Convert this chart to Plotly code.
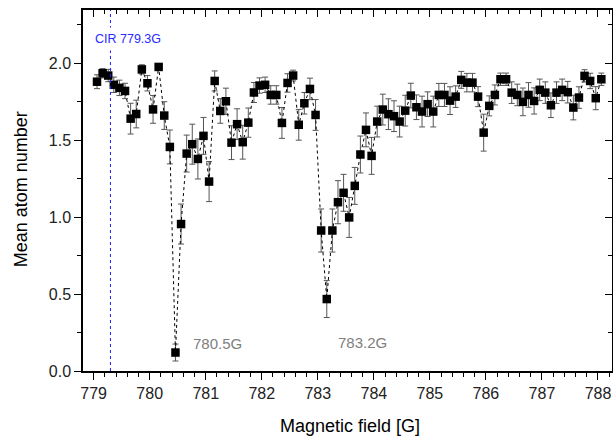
import plotly.graph_objects as go

field = [779.06, 779.16, 779.26, 779.36, 779.46, 779.56, 779.66, 779.76, 779.86, 779.96,
         780.06, 780.16, 780.26, 780.36, 780.46, 780.56, 780.66, 780.76, 780.86, 780.96,
         781.06, 781.16, 781.26, 781.36, 781.46, 781.56, 781.66, 781.76, 781.86, 781.96,
         782.06, 782.16, 782.26, 782.36, 782.46, 782.56, 782.66, 782.76, 782.86, 782.96,
         783.06, 783.16, 783.26, 783.36, 783.46, 783.56, 783.66, 783.76, 783.86, 783.96,
         784.06, 784.16, 784.26, 784.36, 784.46, 784.56, 784.66, 784.76, 784.86, 784.96,
         785.06, 785.16, 785.26, 785.36, 785.46, 785.56, 785.66, 785.76, 785.86, 785.96,
         786.06, 786.16, 786.26, 786.36, 786.46, 786.56, 786.66, 786.76, 786.86, 786.96,
         787.06, 787.16, 787.26, 787.36, 787.46, 787.56, 787.66, 787.76, 787.86, 787.96,
         788.06]

atoms = [1.88, 1.935, 1.92, 1.86, 1.84, 1.82, 1.64, 1.67, 1.96, 1.87,
         1.70, 1.976, 1.66, 1.456, 0.12, 0.955, 1.413, 1.474, 1.378, 1.528,
         1.231, 1.885, 1.69, 1.753, 1.484, 1.604, 1.487, 1.614, 1.81, 1.855,
         1.86, 1.794, 1.794, 1.612, 1.872, 1.92, 1.60, 1.74, 1.833, 1.664,
         0.913, 0.4675, 0.913, 1.097, 1.158, 0.998, 1.203, 1.407, 1.567, 1.398,
         1.621, 1.699, 1.669, 1.656, 1.621, 1.692, 1.79, 1.714, 1.686, 1.734,
         1.686, 1.794, 1.794, 1.757, 1.783, 1.892, 1.874, 1.874, 1.783, 1.549,
         1.723, 1.794, 1.896, 1.896, 1.809, 1.794, 1.749, 1.794, 1.755, 1.827,
         1.809, 1.727, 1.809, 1.827, 1.812, 1.712, 1.777, 1.918, 1.885, 1.773,
         1.896]

errors = [0.045, 0.03, 0.04, 0.05, 0.05, 0.05, 0.10, 0.09, 0.03, 0.05,
          0.09, 0.02, 0.09, 0.11, 0.055, 0.13, 0.12, 0.13, 0.13, 0.12,
          0.13, 0.065, 0.08, 0.085, 0.11, 0.10, 0.11, 0.095, 0.065, 0.05,
          0.05, 0.06, 0.06, 0.10, 0.06, 0.035, 0.10, 0.07, 0.07, 0.10,
          0.14, 0.12, 0.14, 0.14, 0.12, 0.13, 0.12, 0.12, 0.11, 0.12,
          0.10, 0.10, 0.10, 0.10, 0.10, 0.10, 0.08, 0.08, 0.10, 0.08,
          0.10, 0.075, 0.075, 0.09, 0.07, 0.055, 0.06, 0.06, 0.065, 0.12,
          0.065, 0.065, 0.04, 0.04, 0.07, 0.07, 0.09, 0.08, 0.085, 0.07,
          0.07, 0.08, 0.07, 0.07, 0.07, 0.08, 0.07, 0.04, 0.05, 0.075,
          0.04]

cir_field = 779.3
cir_label = "CIR 779.3G"
resonances = [("780.5G", 781.21, 0.18), ("783.2G", 783.80, 0.185)]

x_range = [778.81, 788.25]
y_range = [0, 2.346]
x_ticks = list(range(779, 789))
y_ticks = [0.0, 0.5, 1.0, 1.5, 2.0]

FONT = "Liberation Sans, Arial, sans-serif"

fig = go.Figure()
fig.add_trace(go.Scatter(
    x=field, y=atoms, mode="lines+markers",
    line=dict(color="black", width=1, dash="dot"),
    marker=dict(symbol="square", size=8.5, color="black"),
    error_y=dict(type="data", array=errors, visible=True, color="#555555",
                 thickness=1, width=3),
    showlegend=False, hoverinfo="skip"))
# invisible trace so mirror axes (top/right) are drawn
fig.add_trace(go.Scatter(x=field[:1], y=atoms[:1], xaxis="x2", yaxis="y2",
                         mode="markers", marker=dict(opacity=0),
                         showlegend=False, hoverinfo="skip"))

fig.add_shape(type="line", x0=cir_field, x1=cir_field, xref="x",
              y0=0, y1=1, yref="y domain",
              line=dict(color="#2020ff", width=1, dash="dot"))
fig.add_annotation(x=779.607, y=2.158, xref="x", yref="y", text=cir_label,
                   xanchor="center", yanchor="middle",
                   showarrow=False, font=dict(family=FONT, size=12.5, color="#2a2aff"),
                   bgcolor="white", borderpad=4)
for txt, xv, yv in resonances:
    fig.add_annotation(x=xv, y=yv, xref="x", yref="y", text=txt, showarrow=False,
                       xanchor="center", yanchor="middle",
                       font=dict(family=FONT, size=15, color="#808080"))

fig.add_annotation(x=-0.118, y=0.502, xref="paper", yref="paper",
                   xanchor="center", yanchor="middle",
                   text="Mean atom number", textangle=-90, showarrow=False,
                   font=dict(family=FONT, size=18, color="black"))
fig.add_annotation(x=0.504, y=-0.151, xref="paper", yref="paper",
                   xanchor="center", yanchor="middle",
                   text="Magnetic field [G]", showarrow=False,
                   font=dict(family=FONT, size=18, color="black"))

axis_common = dict(showgrid=False, zeroline=False, showline=True,
                   linecolor="black", linewidth=1.5)
fig.update_layout(
    width=613, height=441,
    margin=dict(l=83, r=1, t=10, b=70),
    paper_bgcolor="white", plot_bgcolor="white",
    font=dict(family=FONT, size=16, color="#222222"),
    xaxis=dict(range=x_range, tickvals=x_ticks, ticks="outside", ticklen=7,
               tickwidth=1, tickcolor="black",
               minor=dict(dtick=0.2, tick0=779, ticks="outside", ticklen=4,
                          tickcolor="black", showgrid=False),
               tickfont=dict(size=16, color="#222222"), **axis_common),
    yaxis=dict(range=y_range, tickvals=y_ticks, tickformat=".1f",
               ticks="outside", ticklen=7, tickwidth=1, tickcolor="black",
               minor=dict(dtick=0.25, tick0=0, ticks="outside", ticklen=4,
                          tickcolor="black", showgrid=False),
               tickfont=dict(size=16, color="#222222"), **axis_common),
    xaxis2=dict(range=x_range, overlaying="x", side="top", anchor="y2",
                tickvals=x_ticks, ticks="inside", ticklen=7, tickcolor="black",
                minor=dict(dtick=0.2, tick0=779, ticks="inside", ticklen=4,
                           tickcolor="black", showgrid=False),
                showticklabels=False, **axis_common),
    yaxis2=dict(range=y_range, overlaying="y", side="right", anchor="x2",
                tickvals=y_ticks, ticks="inside", ticklen=7, tickcolor="black",
                minor=dict(dtick=0.25, tick0=0, ticks="inside", ticklen=4,
                           tickcolor="black", showgrid=False),
                showticklabels=False, **axis_common),
)

fig.write_html("out.html")
